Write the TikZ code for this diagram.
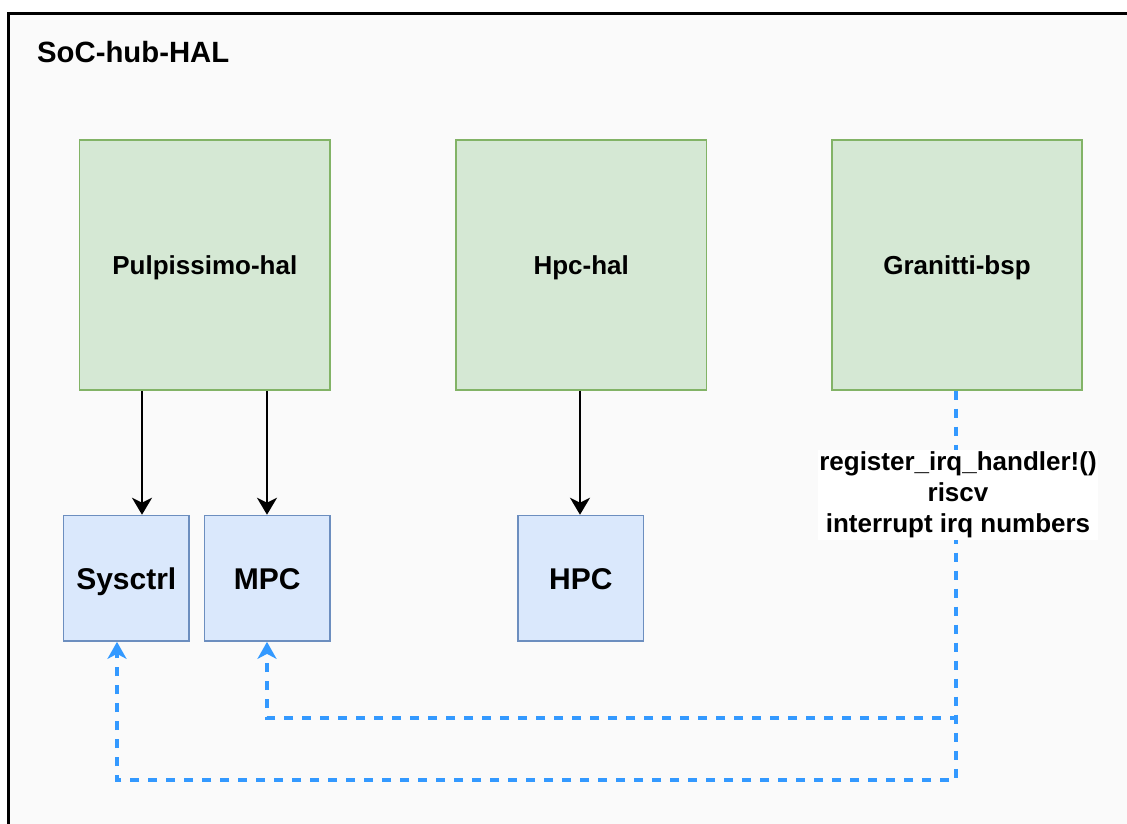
\documentclass[tikz,border=0pt]{standalone}
\usepackage{fontspec}
\setmainfont{Liberation Sans}
\usetikzlibrary{arrows.meta}
\definecolor{gfill}{HTML}{D5E8D4}
\definecolor{gline}{HTML}{82B366}
\definecolor{bfill}{HTML}{DAE8FC}
\definecolor{bline}{HTML}{6C8EBF}
\definecolor{dline}{HTML}{3399FF}
\definecolor{bgc}{HTML}{FAFAFA}
\begin{document}
\begin{tikzpicture}[x=1pt,y=-1pt,
  bigbox/.style={draw=gline, fill=gfill, line width=1.6pt, inner sep=0pt,
    minimum width=250.5pt, minimum height=250pt,
    font=\bfseries\fontsize{26pt}{31.2pt}\selectfont, text height=18.6pt, text depth=0pt},
  smallbox/.style={draw=bline, fill=bfill, line width=1.6pt, inner sep=0pt,
    minimum width=125.5pt, minimum height=125.5pt,
    font=\bfseries\fontsize{30pt}{36pt}\selectfont, text height=21.5pt, text depth=0pt},
  solidarrow/.style={draw=black, line width=2.6pt,
    -{Stealth[length=17pt,width=20pt,inset=5pt]}},
  dasharrow/.style={draw=dline, line width=3.4pt, dash pattern=on 9pt off 9pt,
    -{Stealth[length=17pt,width=19pt,inset=5pt]}},
  lbl/.style={fill=white, inner sep=1.5pt, align=center,
    font=\bfseries\fontsize{26pt}{31.2pt}\selectfont}
]
\useasboundingbox (0,0) rectangle (1127,824);
\clip (0,0) rectangle (1127,824);
\fill[white] (0,0) rectangle (1127,824);
\draw[line width=3pt, fill=bgc] (8.3,13.5) rectangle (1200,900);

\node[anchor=base west, inner sep=0pt, font=\bfseries\fontsize{29.3pt}{34pt}\selectfont] (title) at (37,62.7) {SoC-hub-HAL};

\node[bigbox] (pul) at (204.8,265) {Pulpissimo-hal};
\node[bigbox] (hpch) at (581.2,265) {Hpc-hal};
\node[bigbox] (gra) at (957,265) {Granitti-bsp};

\node[smallbox] (sys) at (126.3,578.3) {Sysctrl};
\node[smallbox] (mpc) at (267.3,578.3) {MPC};
\node[smallbox] (hpc) at (580.8,578.3) {HPC};

\coordinate (c142) at (142,0);
\coordinate (c267) at (267,0);
\coordinate (c580) at (580,0);
\coordinate (c956) at (956,0);
\coordinate (c117) at (117,0);
\coordinate (r1) at (956,718);
\coordinate (r2) at (956,780);

\draw[solidarrow] (pul.south -| c142) -- (sys.north -| c142);
\draw[solidarrow] (pul.south -| c267) -- (mpc.north -| c267);
\draw[solidarrow] (hpch.south -| c580) -- (hpc.north -| c580);

\draw[dasharrow] (gra.south -| c956) -- (r1) -| (mpc.south -| c267);
\draw[dasharrow] (gra.south -| c956) -- (r2) -| (sys.south -| c117);

\node[lbl] (irq) at (958,495) {register\_irq\_handler!()\\riscv\\interrupt irq numbers};
\end{tikzpicture}
\end{document}
